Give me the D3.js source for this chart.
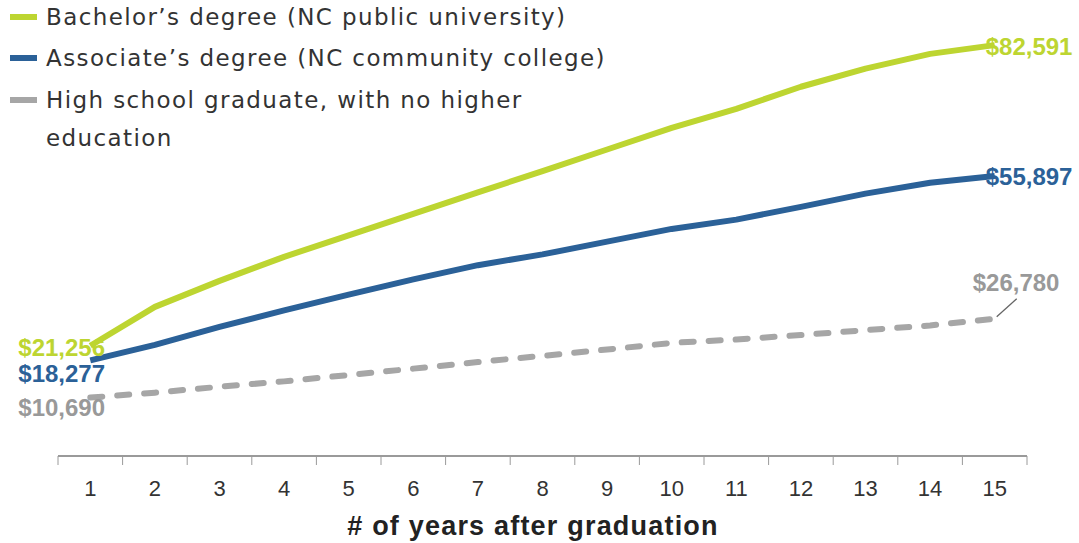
<!DOCTYPE html>
<html>
<head>
<meta charset="utf-8">
<script src="https://cdn.jsdelivr.net/npm/d3@7"></script>
<style>
  body { margin: 0; background: #fff; }
  svg { display: block; }
</style>
</head>
<body>
<svg id="chart" width="1079" height="543"></svg>
<script>
var years = [1, 2, 3, 4, 5, 6, 7, 8, 9, 10, 11, 12, 13, 14, 15];
var bachelor = [21256, 29200, 34500, 39400, 43800, 48150, 52550, 56900, 61300, 65700, 69600, 74100, 77800, 80800, 82591];
var associate = [18277, 21450, 25100, 28500, 31700, 34800, 37700, 39900, 42500, 45100, 47000, 49600, 52300, 54500, 55897];
var highSchool = [10690, 11700, 12900, 14000, 15300, 16600, 17950, 19200, 20500, 21850, 22550, 23450, 24450, 25400, 26780];
var seriesNames = ["Bachelor\u2019s degree (NC public university)", "Associate\u2019s degree (NC community college)", "High school graduate, with no higher|education"];
var colors = ["#bdd531", "#2b6198", "#a6a6a6"];
var xTitle = "# of years after graduation";

var svg = d3.select("#chart");

var x = d3.scaleBand().domain(years).range([58, 1027]);
var y = d3.scaleLinear().domain([0, 90000]).range([450, 8.8]);
var cx = function(d) { return x(d) + x.bandwidth() / 2; };

// x axis
var axis = svg.append("g")
  .attr("transform", "translate(0,456)");
axis.append("line")
  .attr("x1", x.range()[0]).attr("x2", x.range()[1])
  .attr("stroke", "#9a9a9a").attr("stroke-width", 2);
axis.selectAll("line.tick")
  .data(years.concat([null]))
  .enter().append("line")
  .attr("class", "tick")
  .attr("x1", function(d, i) { return x.range()[0] + i * x.step(); })
  .attr("x2", function(d, i) { return x.range()[0] + i * x.step(); })
  .attr("y1", 0).attr("y2", 9)
  .attr("stroke", "#9a9a9a").attr("stroke-width", 1);
axis.selectAll("text")
  .data(years)
  .enter().append("text")
  .attr("x", cx)
  .attr("y", 40)
  .attr("text-anchor", "middle")
  .style("font-family", "'Liberation Sans Narrow', 'Liberation Sans', Arial, sans-serif")
  .style("font-size", "22px")
  .style("fill", "#333")
  .text(function(d) { return d; });

svg.append("text")
  .attr("x", 533)
  .attr("y", 535)
  .attr("text-anchor", "middle")
  .style("font-family", "'Liberation Sans', Arial, sans-serif")
  .style("font-weight", "bold")
  .style("font-size", "27px")
  .style("letter-spacing", "1.2px")
  .style("fill", "#222")
  .text(xTitle);

// lines
var line = d3.line()
  .x(function(d, i) { return cx(years[i]); })
  .y(function(d) { return y(d); });

var allSeries = [bachelor, associate, highSchool];
allSeries.forEach(function(values, k) {
  var path = svg.append("path")
    .datum(values)
    .attr("d", line)
    .attr("fill", "none")
    .attr("stroke", colors[k])
    .attr("stroke-width", 6)
    .attr("stroke-linejoin", "round");
  if (k == 2)
    path.attr("stroke-dasharray", "12,15").attr("stroke-linecap", "round");
});

// value labels
var labelFont = "'Liberation Sans', Arial, sans-serif";
var fmt = d3.format("$,");
var first = cx(years[0]), last = cx(years[years.length - 1]);
var leftOffsets = [2, 13, 10];
allSeries.forEach(function(values, k) {
  svg.append("text")
    .attr("x", first - 72)
    .attr("y", y(values[0]) + leftOffsets[k])
    .attr("dominant-baseline", "central")
    .style("font-family", labelFont)
    .style("font-weight", "bold")
    .style("font-size", "24px")
    .style("fill", colors[k] == "#a6a6a6" ? "#999" : colors[k])
    .text(fmt(values[0]));
});
[0, 1].forEach(function(k) {
  var values = allSeries[k];
  svg.append("text")
    .attr("x", last - 9)
    .attr("y", y(values[values.length - 1]) + 1)
    .attr("dominant-baseline", "central")
    .style("font-family", labelFont)
    .style("font-weight", "bold")
    .style("font-size", "24px")
    .style("fill", colors[k])
    .text(fmt(values[values.length - 1]));
});
var hsLast = highSchool[highSchool.length - 1];
svg.append("line")
  .attr("x1", last + 2).attr("y1", y(hsLast) - 2)
  .attr("x2", last + 22).attr("y2", y(hsLast) - 20)
  .attr("stroke", "#666").attr("stroke-width", 1.3);
svg.append("text")
  .attr("x", last - 22)
  .attr("y", y(hsLast) - 36)
  .attr("dominant-baseline", "central")
  .style("font-family", labelFont)
  .style("font-weight", "bold")
  .style("font-size", "24px")
  .style("fill", "#999")
  .text(fmt(hsLast));

// legend
var legend = svg.append("g");
var rowY = [17, 58, 100];
seriesNames.forEach(function(name, k) {
  legend.append("rect")
    .attr("x", 10).attr("y", rowY[k] - 3)
    .attr("width", 27).attr("height", 6)
    .attr("fill", colors[k]);
  name.split("|").forEach(function(part, j) {
    legend.append("text")
      .attr("x", 46)
      .attr("y", rowY[k] + j * 38)
      .attr("dominant-baseline", "central")
      .style("font-family", "'DejaVu Sans', sans-serif")
      .style("font-size", "23px")
      .style("letter-spacing", "1.4px")
      .style("fill", "#333")
      .text(part);
  });
});
</script>
</body>
</html>
